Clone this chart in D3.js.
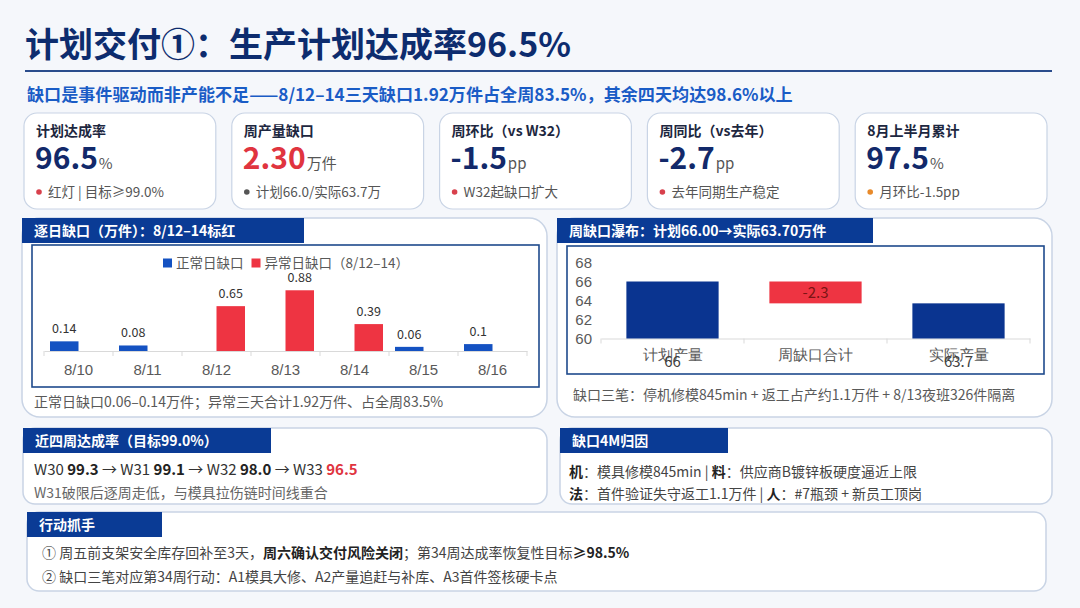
<!DOCTYPE html>
<html><head><meta charset="utf-8">
<script src="https://cdn.jsdelivr.net/npm/d3@7"></script>
<style>
html,body{margin:0;padding:0;background:#f5f7fb;}
svg{display:block;font-family:"Noto Sans CJK SC","Noto Sans",sans-serif;}
</style></head><body>
<svg id="c" width="1080" height="608"></svg>
<script>
// ---------- data ----------
const titleText = "计划交付①：生产计划达成率96.5%";
const subtitleText = "缺口是事件驱动而非产能不足——8/12–14三天缺口1.92万件占全周83.5%，其余四天均达98.6%以上";

const kpiLabels = ["计划达成率", "周产量缺口", "周环比（vs W32）", "周同比（vs去年）", "8月上半月累计"];
const kpiValues = ["96.5", "2.30", "-1.5", "-2.7", "97.5"];
const kpiUnits = ["%", "万件", "pp", "pp", "%"];
const kpiNotes = ["红灯 | 目标≥99.0%", "计划66.0/实际63.7万", "W32起缺口扩大", "去年同期生产稳定", "月环比-1.5pp"];
const kpiStatus = ["bad", "neutral", "bad", "bad", "warn"];

const days = ["8/10", "8/11", "8/12", "8/13", "8/14", "8/15", "8/16"];
const normalGap = [0.14, 0.08, null, null, null, 0.06, 0.1];
const abnormalGap = [null, null, 0.65, 0.88, 0.39, null, null];
const dailySeries = ["正常日缺口", "异常日缺口（8/12–14）"];
const dailyTitle = "逐日缺口（万件）：8/12–14标红";
const dailyNote = "正常日缺口0.06–0.14万件；异常三天合计1.92万件、占全周83.5%";

const wfCategories = ["计划产量", "周缺口合计", "实际产量"];
const wfValues = [66, -2.3, 63.7];
const wfTicks = [60, 62, 64, 66, 68];
const wfTitle = "周缺口瀑布：计划66.00→实际63.70万件";
const wfNote = "缺口三笔：停机修模845min + 返工占产约1.1万件 + 8/13夜班326件隔离";

const weeks = ["W30", "W31", "W32", "W33"];
const weekRates = [99.3, 99.1, 98.0, 96.5];
const weekTitle = "近四周达成率（目标99.0%）";
const weekNote = "W31破限后逐周走低，与模具拉伤链时间线重合";

const causeTitle = "缺口4M归因";
const causeLines = [
  [["机", 1], ["：模具修模845min | ", 0], ["料", 1], ["：供应商B镀锌板硬度逼近上限", 0]],
  [["法", 1], ["：首件验证失守返工1.1万件 | ", 0], ["人", 1], ["：#7瓶颈 + 新员工顶岗", 0]]
];
const actionTitle = "行动抓手";
const actionLines = [
  [["① 周五前支架安全库存回补至3天，", 0], ["周六确认交付风险关闭", 1], ["；第34周达成率恢复性目标", 0], ["≥98.5%", 1]],
  [["② 缺口三笔对应第34周行动：A1模具大修、A2产量追赶与补库、A3首件签核硬卡点", 0]]
];

// ---------- style ----------
const C = {
  navy: "#0d2c6e", tab: "#0a3b95", blue: "#1a5cc6", barBlue: "#1452c2", red: "#ee3442",
  wfNavy: "#0a3490", text: "#333", grey: "#595959", border: "#c9d4e5", frame: "#1f4a8c"
};
const dotColor = {bad: "#d8404c", neutral: "#555", warn: "#e88a2a"};

const svg = d3.select("#c");
svg.append("rect").attr("width", 1080).attr("height", 608).attr("fill", "#f5f7fb");

function rich(sel, parts, boldColor) {
  parts.forEach(([t, b, col]) => {
    sel.append("tspan").text(t)
      .attr("font-weight", b ? 700 : 400)
      .attr("fill", col || (b ? (boldColor || "#222") : null));
  });
}

// ---------- title ----------
svg.append("text").attr("x", 25).attr("y", 57).text(titleText)
  .attr("font-size", 34).attr("font-weight", 700).attr("fill", C.navy);
svg.append("line").attr("x1", 25).attr("x2", 1052).attr("y1", 71).attr("y2", 71)
  .attr("stroke", "#2a4c8c").attr("stroke-width", 2);
svg.append("text").attr("x", 27).attr("y", 101).text(subtitleText)
  .attr("font-size", 17.1).attr("font-weight", 700).attr("fill", C.blue);

// ---------- KPI cards ----------
const cardX = d3.scaleBand().domain(d3.range(kpiLabels.length)).range([24, 1047]).paddingInner(0.077);
kpiLabels.forEach((lab, i) => {
  const g = svg.append("g").attr("transform", `translate(${cardX(i)},113)`);
  g.append("rect").attr("width", cardX.bandwidth()).attr("height", 96).attr("rx", 13)
    .attr("fill", "#fff").attr("stroke", C.border).attr("stroke-width", 1.2);
  g.append("text").attr("x", 12).attr("y", 23).text(lab)
    .attr("font-size", 14).attr("font-weight", 700).attr("fill", "#1d2740");
  const v = g.append("text").attr("x", 11).attr("y", 56);
  v.append("tspan").text(kpiValues[i]).attr("font-size", 30).attr("font-weight", 700)
    .attr("fill", kpiStatus[i] === "neutral" ? "#e0343f" : "#12296a");
  v.append("tspan").text(kpiUnits[i]).attr("font-size", 15).attr("fill", "#555").attr("dx", 1);
  g.append("circle").attr("cx", 15).attr("cy", 79).attr("r", 2.8).attr("fill", dotColor[kpiStatus[i]]);
  g.append("text").attr("x", 24).attr("y", 84).text(kpiNotes[i]).attr("font-size", 13.5).attr("fill", "#555");
});

// ---------- panel helper ----------
function panel(x, y, w, h, tabW, tabH, title, r) {
  svg.append("rect").attr("x", x).attr("y", y).attr("width", w).attr("height", h).attr("rx", r)
    .attr("fill", "#fff").attr("stroke", C.border).attr("stroke-width", 1.5);
  svg.append("rect").attr("x", x).attr("y", y).attr("width", tabW).attr("height", tabH).attr("fill", C.tab);
  svg.append("text").attr("x", x + 12).attr("y", y + tabH / 2 + 5).text(title)
    .attr("font-size", 14).attr("font-weight", 700).attr("fill", "#fff");
}

// ---------- daily gap chart ----------
panel(22, 218, 525, 199, 282, 25, dailyTitle, 18);
svg.append("rect").attr("x", 32).attr("y", 245).attr("width", 507).attr("height", 142)
  .attr("fill", "#fff").attr("stroke", C.frame).attr("stroke-width", 1.6);

const xD = d3.scaleBand().domain(days).range([44, 527]);
const xS = d3.scaleBand().domain([0, 1]).range([6, xD.bandwidth() - 6]);
const yD = d3.scaleLinear().domain([0, 1]).range([351, 282]);
const seriesData = [normalGap, abnormalGap];
const seriesColor = [C.barBlue, C.red];

const axD = svg.append("g").attr("transform", "translate(0,351)")
  .call(d3.axisBottom(xD).tickSize(0).tickPadding(13).tickSizeOuter(0));
axD.select(".domain").attr("stroke", "#d9d9d9");
axD.selectAll("text").attr("font-size", 15).attr("fill", C.grey).attr("font-family", null);
svg.append("g").selectAll("line").data(days.concat(["end"])).join("line")
  .attr("x1", (d, i) => xD.range()[0] + i * xD.step()).attr("x2", (d, i) => xD.range()[0] + i * xD.step())
  .attr("y1", 351).attr("y2", 356).attr("stroke", "#d9d9d9");

seriesData.forEach((arr, s) => {
  const pts = days.map((d, i) => ({d, v: arr[i]})).filter(p => p.v != null);
  svg.append("g").selectAll("rect").data(pts).join("rect")
    .attr("x", p => xD(p.d) + xS(s)).attr("width", xS.bandwidth())
    .attr("y", p => yD(p.v)).attr("height", p => yD(0) - yD(p.v)).attr("fill", seriesColor[s]);
  svg.append("g").selectAll("text").data(pts).join("text")
    .attr("x", p => xD(p.d) + xS(s) + xS.bandwidth() / 2).attr("y", p => yD(p.v) - 8)
    .attr("text-anchor", "middle").attr("font-size", 12.5).attr("fill", "#333").text(p => String(p.v));
});
// legend
const lg = svg.append("g").attr("transform", "translate(163,263)");
let lx = 0;
dailySeries.forEach((name, s) => {
  lg.append("rect").attr("x", lx).attr("y", -4.5).attr("width", 9).attr("height", 9).attr("fill", seriesColor[s]);
  const t = lg.append("text").attr("x", lx + 13).attr("y", 5).text(name).attr("font-size", 13.5).attr("fill", C.grey);
  lx += 13 + t.node().getComputedTextLength() + 8;
});
svg.append("text").attr("x", 34).attr("y", 407).text(dailyNote).attr("font-size", 14).attr("fill", C.grey);

// ---------- waterfall ----------
panel(557, 218, 495, 199, 316, 25, wfTitle, 18);
svg.append("rect").attr("x", 567).attr("y", 246).attr("width", 477).attr("height", 128)
  .attr("fill", "#fff").attr("stroke", C.frame).attr("stroke-width", 1.6);

const xW = d3.scaleBand().domain(wfCategories).range([601, 1030]);
const yW = d3.scaleLinear().domain([60, 68]).range([338.5, 262.5]);
let run = 0;
const wfBars = wfValues.map((v, i) => {
  let lo, hi;
  if (i === 0 || i === wfValues.length - 1) { lo = 60; hi = v; run = v; }
  else { lo = Math.min(run, run + v); hi = Math.max(run, run + v); run += v; }
  return {c: wfCategories[i], v, lo, hi, step: !(i === 0 || i === wfValues.length - 1)};
});
const yAx = svg.append("g").attr("transform", "translate(601,0)")
  .call(d3.axisLeft(yW).tickValues(wfTicks).tickSize(0).tickPadding(9));
yAx.select(".domain").remove();
yAx.selectAll("text").attr("font-size", 15).attr("fill", C.grey).attr("font-family", null);
const xAx = svg.append("g").attr("transform", "translate(0,338.5)")
  .call(d3.axisBottom(xW).tickSize(0).tickPadding(11).tickSizeOuter(0));
xAx.select(".domain").attr("stroke", "#d9d9d9");
xAx.selectAll("text").attr("font-size", 15).attr("fill", C.grey).attr("font-family", null);
svg.append("g").selectAll("line").data(wfCategories.concat(["end"])).join("line")
  .attr("x1", (d, i) => 601 + i * xW.step()).attr("x2", (d, i) => 601 + i * xW.step())
  .attr("y1", 338.5).attr("y2", 343.5).attr("stroke", "#d9d9d9");
const bw = xW.bandwidth() * 0.645;
svg.append("g").selectAll("rect").data(wfBars).join("rect")
  .attr("x", d => xW(d.c) + (xW.bandwidth() - bw) / 2).attr("width", bw)
  .attr("y", d => yW(d.hi)).attr("height", d => yW(d.lo) - yW(d.hi))
  .attr("fill", d => d.step ? C.red : C.wfNavy);
svg.append("g").selectAll("text").data(wfBars).join("text")
  .attr("x", d => xW(d.c) + xW.bandwidth() / 2)
  .attr("y", d => d.step ? (yW(d.hi) + yW(d.lo)) / 2 + 5.5 : 367)
  .attr("text-anchor", "middle").attr("font-size", 15)
  .attr("fill", d => d.step ? "#7a1414" : "#404040")
  .text(d => String(d.v));
svg.append("text").attr("x", 573).attr("y", 400).text(wfNote).attr("font-size", 14).attr("fill", C.grey);

// ---------- weekly trend ----------
panel(23, 428, 524, 76, 248, 25, weekTitle, 12);
const wt = svg.append("text").attr("x", 34).attr("y", 475).attr("font-size", 15).attr("fill", "#333");
weeks.forEach((w, i) => {
  const last = i === weeks.length - 1;
  rich(wt, [[w + " ", 0], [weekRates[i].toFixed(1), 1, last ? "#e0343f" : "#222"]]);
  if (!last) rich(wt, [[" → ", 0]]);
});
svg.append("text").attr("x", 34).attr("y", 498).text(weekNote).attr("font-size", 14).attr("fill", "#666");

// ---------- 4M cause ----------
panel(560, 428, 492, 76, 168, 25, causeTitle, 12);
causeLines.forEach((parts, i) => {
  const t = svg.append("text").attr("x", 569).attr("y", 477 + i * 22).attr("font-size", 14).attr("fill", "#444");
  rich(t, parts, "#222");
});

// ---------- actions ----------
panel(27, 512, 1019, 79, 135, 25, actionTitle, 12);
actionLines.forEach((parts, i) => {
  const t = svg.append("text").attr("x", 42).attr("y", 558 + i * 24).attr("font-size", 14).attr("fill", "#444");
  rich(t, parts, "#222");
});
</script>
</body></html>
